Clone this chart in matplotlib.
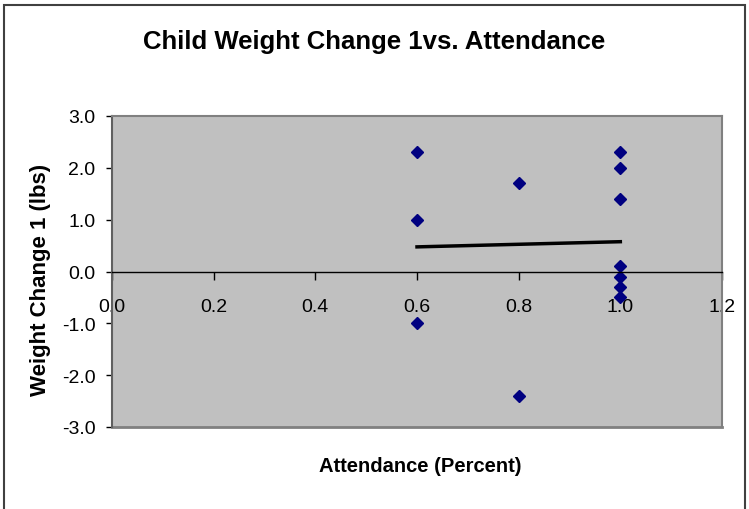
import numpy as np
import matplotlib.pyplot as plt
from matplotlib.patches import Rectangle

# attendance (fraction) and weight change 1 (lbs)
attendance = [0.6, 0.6, 0.6, 0.8, 0.8, 1.0, 1.0, 1.0, 1.0, 1.0, 1.0, 1.0]
weight_change = [2.3, 1.0, -1.0, 1.7, -2.4, 2.3, 2.0, 1.4, 0.1, -0.1, -0.3, -0.5]

x_ticks = [0.0, 0.2, 0.4, 0.6, 0.8, 1.0, 1.2]
y_ticks = [-3.0, -2.0, -1.0, 0.0, 1.0, 2.0, 3.0]

plt.rcParams['font.family'] = ['Liberation Sans', 'DejaVu Sans']

fig = plt.figure(figsize=(7.49, 5.10), dpi=100)
ax = fig.add_axes([112 / 749, 82 / 510, 610 / 749, 311 / 510])
ax.set_facecolor('#C0C0C0')

# outer chart border
fig.patches.append(Rectangle((4 / 749, -0.05), 741 / 749, 1.05 - 6 / 510,
                             transform=fig.transFigure, fill=False,
                             edgecolor='#404040', linewidth=1.5))

ax.plot(attendance, weight_change, linestyle='none', marker='D', markersize=6,
        color='#000080')

# linear trendline
slope, intercept = np.polyfit(attendance, weight_change, 1)
xs = np.array([min(attendance), max(attendance)])
ax.plot(xs, slope * xs + intercept, color='black', linewidth=2.5)

ax.set_xlim(0, 1.2)
ax.set_ylim(-3, 3)
ax.set_xticks(x_ticks)
ax.set_yticks(y_ticks)
ax.set_xticklabels([f'{t:.1f}' for t in x_ticks])
ax.set_yticklabels([f'{t:.1f}' for t in y_ticks])

for side in ['top', 'right', 'left']:
    ax.spines[side].set_color('#808080')
    ax.spines[side].set_linewidth(1.5)
ax.spines['left'].set_color('#606060')
ax.spines['bottom'].set_position(('data', 0))
ax.spines['bottom'].set_color('black')
ax.spines['bottom'].set_linewidth(1)
ax.plot([0, 1], [0, 0], transform=ax.transAxes, color='#808080',
        linewidth=2, clip_on=False)

ax.tick_params(axis='x', direction='out', length=6, width=1, pad=13,
               labelsize=14, colors='black')
ax.tick_params(axis='y', direction='out', length=4, width=1, pad=8,
               labelsize=14, colors='black')

fig.text(0.5, 1 - 42 / 510, 'Child Weight Change 1vs. Attendance',
         ha='center', va='center', fontsize=18.5, fontweight='bold')
fig.text(420 / 749, 1 - 467 / 510, 'Attendance (Percent)', ha='center',
         va='center', fontsize=14.5, fontweight='bold')
fig.text(41 / 749, 1 - 280 / 510, 'Weight Change 1 (lbs)', ha='center',
         va='center', rotation=90, fontsize=16, fontweight='bold')

fig.savefig('out.png', dpi=100)
